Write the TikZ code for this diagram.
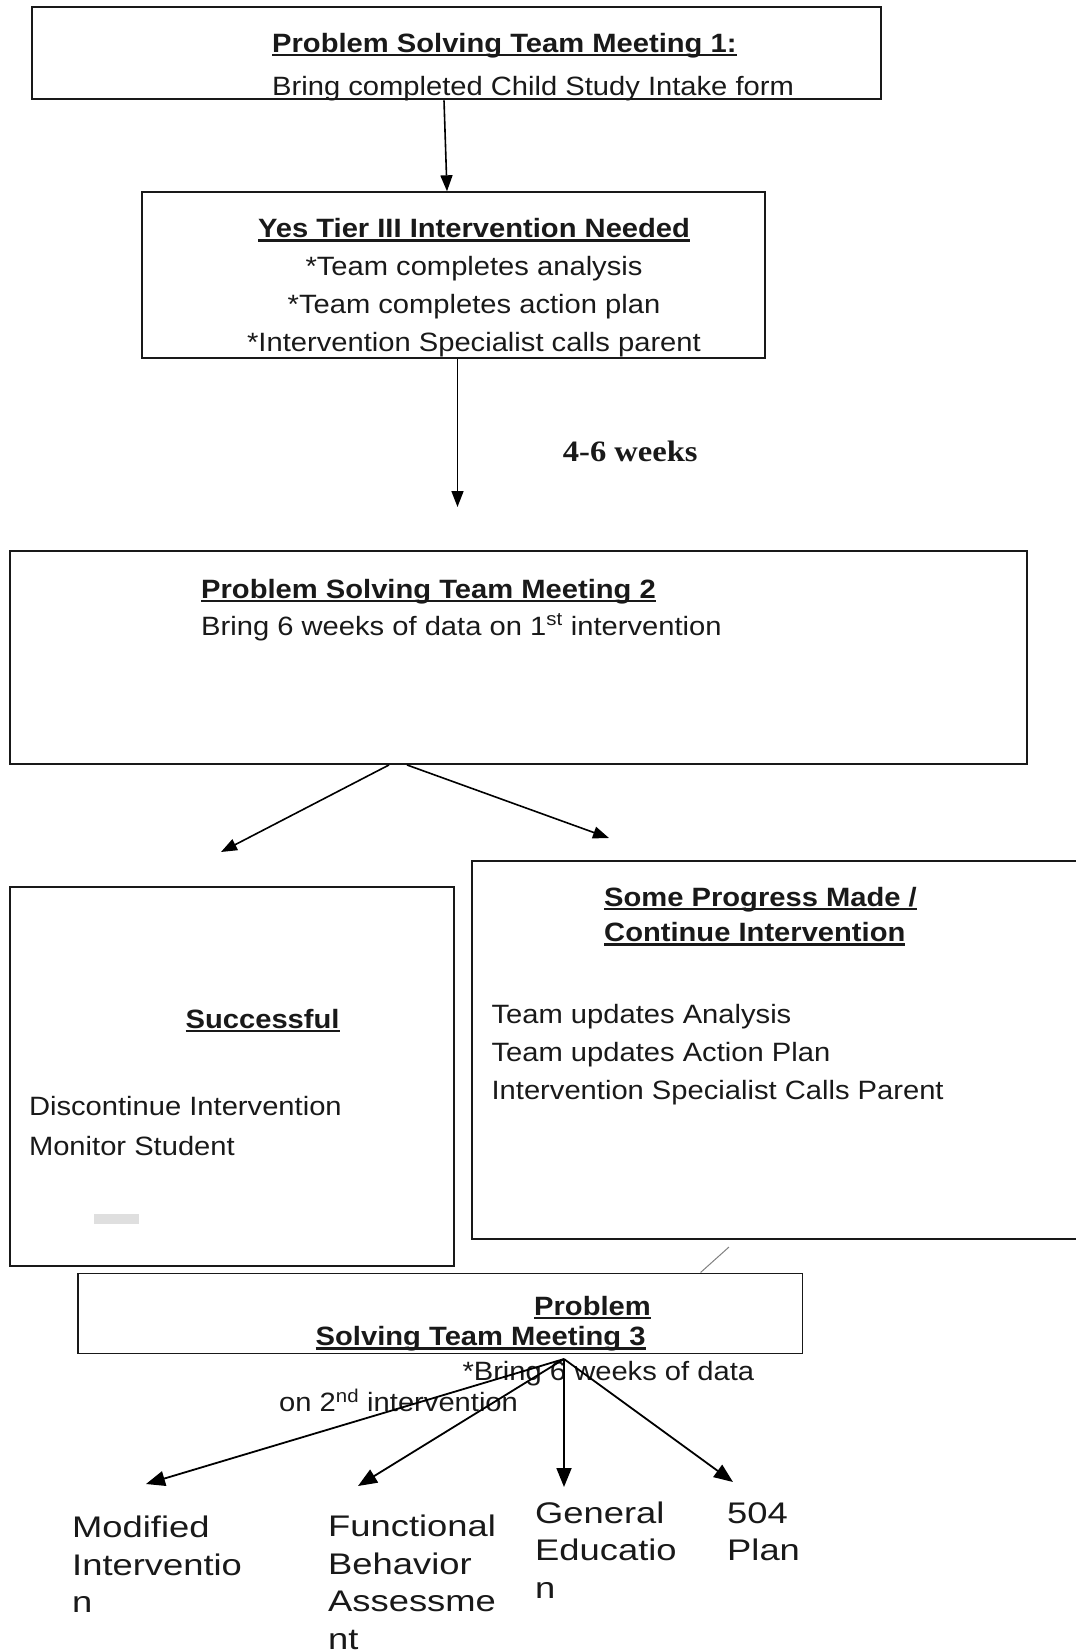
\documentclass[tikz,border=0pt]{standalone}
\usepackage{fontspec}
\setmainfont[FakeStretch=1.1]{Liberation Sans}
\newfontfamily\weeksfont[FakeStretch=1.1]{Liberation Serif}
\newfontfamily\optfont[FakeStretch=1.22]{Liberation Sans}
\usetikzlibrary{arrows.meta,positioning}
\newcommand\ulbar[1]{\setbox0\hbox{#1}\rlap{\rule[-4pt]{\wd0}{2.4pt}}\box0}
\tikzset{
  box/.style={draw=black!90, line width=2pt, inner sep=0pt},
  txt/.style={inner sep=0pt, text=black!90, font=\fontsize{26.5}{38}\selectfont},
  opt/.style={inner sep=0pt, align=left, anchor=base west, text=black!90, font=\optfont\fontsize{29.8}{37.5}\selectfont},
  flow/.style={line width=1.6pt, -{Triangle[length=16pt,width=12pt]}},
  fanflow/.style={line width=1.8pt, -{Triangle[length=19pt,width=15pt]}},
}

\begin{document}
\begin{tikzpicture}[x=1pt, y=-1pt]
\useasboundingbox (0,0) rectangle (1076,1650);
% boxes
\node[box, minimum width=848.6pt, minimum height=92.6pt] (m1) at (456.3,53) {};
\node[box, minimum width=622.6pt, minimum height=166pt] (tier) at (453.3,275.3) {};
\node[box, minimum width=1017.4pt, minimum height=213.3pt] (m2) at (518.3,657.3) {};
\node[box, minimum width=444.8pt, minimum height=379pt] (ok) at (232,1076.2) {};
\node[box, minimum width=612.8pt, minimum height=378pt] (prog) at (778.6,1050) {};
\node[box, line width=1.6pt, minimum width=724.7pt, minimum height=80pt] (m3) at (440.25,1313.3) {};
\fill[gray!25] (94,1214.3) rectangle (139.3,1224.3);

% texts (multi-line nodes sit on their last baseline)
\node[txt, anchor=base west, align=left] (m1t) at (272,95) {\textbf{\ulbar{Problem Solving Team Meeting 1:}}\\[5pt] Bring completed Child Study Intake form};
\node[txt, anchor=base, align=center] (tiert) at (474,351.7) {\textbf{\ulbar{Yes Tier III Intervention Needed}}\\ *Team completes analysis\\ *Team completes action plan\\ *Intervention Specialist calls parent};
\node[inner sep=0pt, anchor=base west, text=black!90, font=\weeksfont\bfseries\fontsize{29.6}{36}\selectfont] (wk) at (562.7,461.7) {4-6 weeks};
\node[txt, anchor=base west, align=left] (m2t) at (201,635) {\textbf{\ulbar{Problem Solving Team Meeting 2}}\\[-1pt] Bring 6 weeks of data on 1\textsuperscript{st} intervention};
\node[txt, anchor=base] (okh) at (262.6,1028) {\textbf{\ulbar{Successful}}};
\node[txt, anchor=base west, align=left] (okt) at (28.8,1155) {Discontinue Intervention\\[2pt] Monitor Student};
\node[txt, anchor=base west, align=left] (progh) at (604,941.7) {\textbf{\ulbar{Some Progress Made /}}\\[-2.3pt] \textbf{\ulbar{Continue Intervention}}};
\node[txt, anchor=base west, align=left] (progt) at (491.4,1099.3) {Team updates Analysis\\ Team updates Action Plan\\ Intervention Specialist Calls Parent};
\node[txt, anchor=base west] (m3h) at (534,1315) {\textbf{\ulbar{Problem}}};
\node[txt, anchor=base west] (m3s) at (315.5,1345.7) {\textbf{\ulbar{Solving Team Meeting 3}}};
\node[txt, anchor=base west] (m3a) at (462.3,1380) {*Bring 6 weeks of data};
\node[txt, anchor=base west] (m3b) at (279,1411.7) {on 2\textsuperscript{nd} intervention};

% outcomes
\node[opt] (mod) at (72,1612.5) {Modified\\ Interventio\\ n};
\node[opt] (fba) at (328,1649) {Functional\\ Behavior\\ Assessme\\ nt};
\node[opt] (gen) at (535,1598.3) {General\\ Educatio\\ n};
\node[opt] (plan) at (727,1560.8) {504\\ Plan};

% connectors
\coordinate (a2) at (457.5,507);
\coordinate (okend) at (221,852);
\coordinate (progend) at (609,838);
\coordinate (tail) at (729,1247);
\coordinate (fan) at (564,1359);
\coordinate (modend) at (146,1484);
\coordinate (fbaend) at (358,1486);
\coordinate (genend) at (564,1487);
\coordinate (planend) at (733,1482);
\draw[flow] ([xshift=-12.3pt]m1.south) -- ([xshift=-6.3pt]tier.north);
\draw[flow] ([xshift=4.2pt]tier.south) -- (a2);
\draw[flow] ([xshift=-129.3pt]m2.south) -- (okend);
\draw[flow] ([xshift=-111.3pt]m2.south) -- (progend);
\draw[gray, line width=1pt] (tail) -- ([xshift=260.3pt]m3.north);
\foreach \e in {modend,fbaend,genend,planend}
  \draw[fanflow] (fan) -- (\e);
\end{tikzpicture}
\end{document}
